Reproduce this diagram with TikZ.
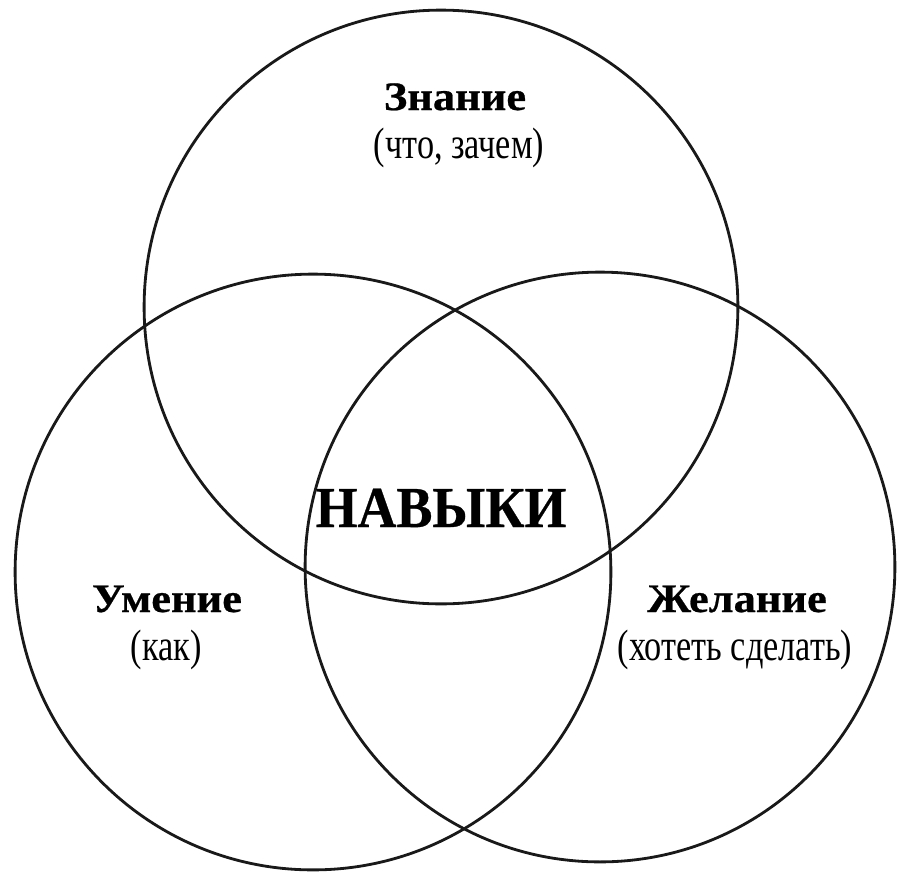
\documentclass[tikz,border=0pt]{standalone}
\usepackage{fontspec}
\setmainfont{Liberation Serif}
\newfontfamily\titlefont[FakeStretch=1.1,FakeBold=0.6]{Liberation Serif}
\newfontfamily\bigfont[FakeStretch=0.93,FakeBold=0.5]{Liberation Serif}
\newfontfamily\subfont[FakeStretch=0.78]{Liberation Serif}
\begin{document}
\begin{tikzpicture}[x=0.02cm,y=-0.02cm,
  venn/.style={circle,draw=black!90,line width=1.6pt,inner sep=0pt,minimum size=#1*0.04cm},
  title/.style={anchor=base,inner sep=0pt,font=\titlefont\bfseries\fontsize{23}{26}\selectfont},
  subtitle/.style={anchor=base,inner sep=0pt,font=\subfont\fontsize{25}{28}\selectfont},
  center/.style={anchor=base,inner sep=0pt,font=\bigfont\bfseries\fontsize{33}{36}\selectfont}]
\useasboundingbox (0,0) rectangle (898,876);
\node[venn=297] (know) at (441,307) {};
\node[venn=298] (skill) at (313,572) {};
\node[venn=295] (want) at (600,567) {};
\node[title] (knowT) at (455,110) {Знание};
\node[subtitle] (knowS) at (459,158) {(что, зачем)};
\node[center] (habit) at (441,527) {НАВЫКИ};
\node[title] (skillT) at (167,612) {Умение};
\node[subtitle] (skillS) at (166,660) {(как)};
\node[title] (wantT) at (737,612) {Желание};
\node[subtitle] (wantS) at (735,660) {(хотеть сделать)};
\end{tikzpicture}
\end{document}
